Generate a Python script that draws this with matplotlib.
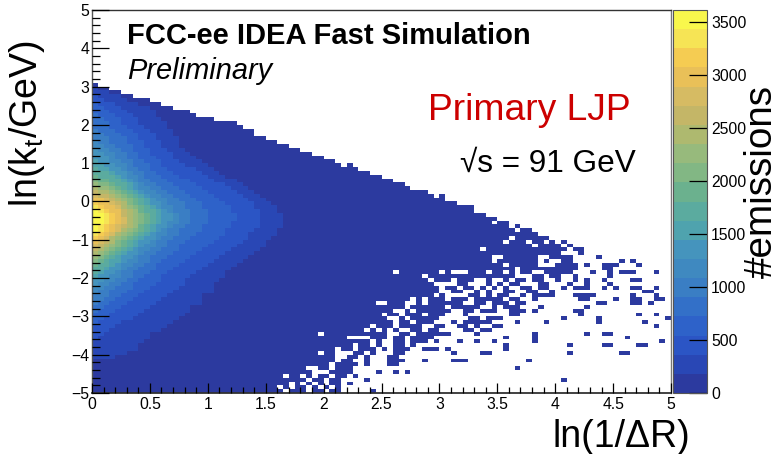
import numpy as np
import matplotlib
matplotlib.use("Agg")
import matplotlib.pyplot as plt
from matplotlib.colors import ListedColormap, BoundaryNorm
from matplotlib.ticker import MultipleLocator

plt.rcParams['font.family'] = ['Liberation Sans', 'DejaVu Sans']
plt.rcParams['mathtext.fontset'] = 'custom'
plt.rcParams['mathtext.rm'] = 'Liberation Sans'
plt.rcParams['mathtext.default'] = 'regular'
plt.rcParams['axes.unicode_minus'] = True

N_BINS = 100
Z_MAX = 3613

# colours of the 20 palette bands, bottom to top
band_colors = ["#2c3a9f", "#2947b5", "#2b55c5", "#2e62c9", "#3370c8",
               "#3a7ec4", "#3f89c0", "#4594bd", "#4fa3ae", "#5bab9f",
               "#6bb18e", "#82b784", "#97ba7c", "#aeb96f", "#c4b667",
               "#d6bb63", "#e9c058", "#f5cc52", "#f6e455", "#f9f74c"]

# highest filled row of each column
top_row = [80, 79, 79, 78, 78, 77, 77, 76, 76, 76, 75, 75, 74, 74, 73, 73, 73, 72, 71, 71,
           71, 70, 70, 70, 70, 69, 68, 68, 66, 66, 65, 65, 64, 64, 63, 63, 62, 62, 61, 61,
           60, 60, 59, 58, 59, 58, 57, 57, 56, 56, 55, 55, 54, 54, 53, 52, 52, 52, 51, 50,
           51, 49, 49, 48, 48, 48, 46, 46, 45, 45, 44, 44, 44, 44, 44, 44, 44, 44, 44, 44,
           44, 44, 44, 44, 44, 44, 44, 44, 44, 44, 44, 44, 44, 44, 44, 44, 44, 44, 44, 44]

# first row of each contour band, then the column where the band ends on each row
band_first_row = [9, 14, 18, 21, 23, 26, 28, 30, 31, 33, 34, 35, 36, 37, 38, 39, 40, 41, 42]
band_01 = [4, 6, 8, 8, 9, 10, 10, 12, 13, 14, 15, 16, 17, 17, 19, 19, 19, 21, 21, 21, 22, 23, 23, 24,
           25, 26, 27, 28, 29, 30, 30, 31, 32, 32, 33, 33, 33, 33, 32, 32, 31, 30, 29, 28, 27, 26, 25,
           23, 22, 21, 20, 19, 18, 17, 16, 15, 15, 15, 14, 14, 13, 13, 12, 11, 11, 10, 8, 6, 5, 3, 1]
band_02 = [1, 2, 3, 4, 5, 7, 8, 9, 10, 11, 12, 13, 14, 15, 16, 16, 17, 18, 19, 20, 21, 22, 23, 24, 25,
           26, 27, 27, 28, 29, 29, 29, 29, 29, 28, 28, 27, 26, 25, 24, 23, 21, 20, 19, 18, 16, 15, 14,
           14, 13, 12, 12, 11, 11, 10, 9, 8, 8, 7, 6, 5, 4, 2, 1]
band_03 = [1, 2, 3, 4, 5, 6, 7, 8, 9, 10, 11, 12, 12, 13, 14, 15, 16, 17, 18, 19, 20, 21, 22, 23, 23,
           24, 24, 25, 25, 24, 24, 23, 22, 21, 20, 19, 18, 17, 15, 14, 13, 12, 12, 11, 10, 10, 9, 9,
           8, 8, 7, 6, 5, 5, 4, 3, 2, 1]
band_04 = [1, 2, 3, 4, 5, 6, 7, 7, 8, 9, 10, 11, 11, 12, 13, 14, 15, 15, 16, 17, 18, 19, 19, 20, 20,
           20, 20, 19, 19, 18, 17, 16, 15, 14, 13, 12, 11, 10, 10, 9, 8, 8, 7, 7, 6, 6, 5, 4, 3, 3, 2, 1]
band_05 = [1, 2, 3, 3, 4, 5, 6, 7, 7, 8, 9, 10, 10, 11, 12, 13, 13, 14, 15, 15, 16, 17, 17, 17, 17,
           16, 16, 15, 14, 13, 12, 11, 10, 9, 9, 8, 7, 7, 6, 6, 5, 4, 3, 3, 2, 1]
band_06 = [1, 2, 3, 4, 5, 5, 6, 7, 8, 8, 9, 10, 11, 11, 12, 13, 13, 14, 15, 15, 15, 14, 14, 13, 13,
           12, 11, 10, 9, 8, 8, 7, 6, 6, 5, 4, 4, 3, 2, 1]
band_07 = [1, 2, 3, 4, 5, 5, 6, 7, 8, 8, 9, 10, 11, 11, 12, 13, 13, 14, 14, 13, 12, 12, 11, 10, 9, 8,
           8, 7, 6, 6, 5, 4, 3, 3, 2, 1]
band_08 = [1, 2, 3, 4, 5, 5, 6, 7, 8, 8, 9, 10, 11, 11, 12, 12, 12, 12, 11, 10, 10, 9, 8, 7, 7, 6, 5,
           4, 3, 2, 1]
band_09 = [1, 2, 3, 3, 4, 5, 6, 7, 7, 8, 9, 10, 10, 11, 11, 11, 11, 10, 9, 9, 8, 7, 6, 6, 5, 4, 3, 1]
band_10 = [1, 2, 3, 4, 5, 6, 6, 7, 8, 9, 9, 10, 10, 10, 9, 9, 8, 8, 7, 6, 5, 4, 3, 1]
band_11 = [1, 2, 3, 4, 5, 5, 6, 7, 8, 8, 9, 9, 9, 8, 8, 7, 7, 6, 5, 4, 3, 1]
band_12 = [1, 2, 3, 4, 4, 5, 6, 7, 8, 8, 8, 8, 8, 7, 6, 6, 5, 4, 3, 1]
band_13 = [1, 2, 3, 4, 4, 5, 6, 7, 7, 7, 7, 7, 6, 6, 5, 4, 3, 1]
band_14 = [1, 2, 3, 3, 4, 5, 6, 6, 6, 6, 6, 5, 5, 4, 3, 1]
band_15 = [1, 2, 3, 4, 5, 5, 6, 6, 5, 5, 5, 4, 3, 1]
band_16 = [1, 2, 3, 4, 4, 5, 5, 5, 5, 4, 3, 2]
band_17 = [1, 2, 3, 3, 4, 4, 4, 3, 2, 1]
band_18 = [1, 2, 2, 3, 3, 3, 2, 1]
band_19 = [1, 1, 2, 2, 2, 1]
band_ends = [band_01, band_02, band_03, band_04, band_05, band_06, band_07, band_08, band_09, band_10,
             band_11, band_12, band_13, band_14, band_15, band_16, band_17, band_18, band_19]

# filled column runs for the rows where the plane gets patchy, row 0 first
filled_runs = [
    [(0, 32), (34, 36), (38, 39), (41, 42), (48, 48)],
    [(0, 31), (33, 33), (35, 36), (38, 38), (40, 40), (42, 42)],
    [(0, 33), (35, 35), (37, 37), (39, 39), (41, 42), (44, 44)],
    [(0, 36), (38, 39), (41, 42), (47, 47), (81, 81)],
    [(0, 32), (34, 35), (37, 37), (39, 40), (42, 43), (45, 45)],
    [(0, 37), (41, 44), (49, 49), (52, 52), (54, 54)],
    [(0, 36), (39, 40), (42, 44), (73, 73)],
    [(0, 40), (42, 45), (47, 47), (51, 52)],
    [(0, 41), (43, 44), (47, 47), (51, 53), (57, 57), (62, 64), (75, 75)],
    [(0, 41), (44, 45), (47, 47), (51, 52)],
    [(0, 38), (40, 41), (45, 46), (48, 48), (52, 53), (62, 62), (67, 68), (82, 82), (91, 92)],
    [(0, 41), (43, 44), (46, 48), (50, 50), (52, 54), (57, 59), (61, 61), (71, 71)],
    [(0, 44), (46, 47), (49, 49), (52, 53), (55, 55), (71, 71), (82, 82), (88, 89), (94, 95)],
    [(0, 47), (49, 49), (52, 53), (55, 57), (59, 59), (63, 63), (66, 66), (69, 69), (76, 76), (98, 98)],
    [(0, 43), (48, 50), (52, 53), (55, 58), (71, 71), (76, 76), (92, 92)],
    [(0, 38), (40, 50), (53, 54), (56, 61), (66, 66), (76, 76), (85, 85), (88, 89)],
    [(0, 46), (48, 48), (50, 50), (52, 52), (55, 56), (58, 59), (64, 65), (67, 68)],
    [(0, 47), (49, 51), (53, 56), (59, 60), (63, 64), (66, 66), (69, 70), (97, 97)],
    [(0, 51), (53, 54), (56, 58), (62, 62), (64, 68), (73, 73), (78, 78), (87, 87), (95, 95)],
    [(0, 50), (53, 53), (55, 59), (65, 66), (68, 70), (81, 81), (87, 87), (99, 99)],
    [(0, 49), (51, 52), (54, 56), (58, 60), (64, 64), (72, 73), (84, 84), (94, 94), (97, 97)],
    [(0, 51), (54, 54), (56, 61), (64, 65), (67, 69), (72, 74), (76, 76), (83, 84)],
    [(0, 53), (55, 60), (62, 66), (69, 69), (71, 73), (77, 77), (85, 85)],
    [(0, 48), (51, 53), (56, 56), (58, 63), (66, 67), (69, 71), (73, 74), (87, 88), (93, 94), (96, 96)],
    [(0, 54), (56, 56), (58, 60), (62, 64), (66, 70), (72, 73), (76, 76), (84, 85), (90, 90), (93, 94), (97, 98)],
    [(0, 58), (60, 60), (65, 66), (68, 68), (70, 71), (74, 74), (76, 79), (83, 86), (93, 93), (97, 97)],
    [(0, 59), (62, 63), (66, 66), (68, 68), (71, 72), (75, 76), (79, 79), (95, 96)],
    [(0, 59), (61, 62), (64, 65), (67, 67), (69, 69), (71, 71), (74, 75), (77, 78), (81, 81), (83, 85),
     (88, 88), (90, 90), (93, 94), (97, 97)],
    [(0, 58), (63, 64), (68, 68), (70, 70), (72, 73), (77, 78), (82, 82), (85, 85), (89, 89)],
    [(0, 57), (59, 61), (63, 65), (68, 68), (71, 71), (73, 74), (76, 77), (80, 80), (83, 83), (85, 85),
     (88, 88), (93, 94)],
    [(0, 56), (58, 72), (76, 77), (79, 80), (83, 83), (89, 89)],
    [(0, 51), (53, 59), (61, 61), (65, 67), (69, 70), (72, 72), (74, 75), (78, 82), (86, 86), (89, 89),
     (91, 93), (97, 97)],
    [(0, 72), (74, 83), (88, 89)],
    [(0, 70), (72, 76), (80, 83), (85, 85), (88, 90), (94, 94)],
    [(0, 68), (70, 76), (78, 78), (81, 82), (91, 91), (93, 93)],
    [(0, 68), (71, 76), (79, 82), (87, 87)],
    [(0, 80), (84, 84)],
    [(0, 66), (68, 81), (83, 84)],
    [(0, 75), (77, 80), (82, 82)],
    [(0, 70), (72, 74), (76, 77), (79, 79), (81, 81)],
    [(0, 71), (73, 78)],
    [(0, 76)],
    [(0, 72), (74, 75)],
    [(0, 71), (73, 73)],
    [(0, 68), (70, 71)],
]

x_ticks = [0, 0.5, 1, 1.5, 2, 2.5, 3, 3.5, 4, 4.5, 5]
x_tick_labels = ["0", "0.5", "1", "1.5", "2", "2.5", "3", "3.5", "4", "4.5", "5"]
y_ticks = [-5, -4, -3, -2, -1, 0, 1, 2, 3, 4, 5]
z_ticks = [0, 500, 1000, 1500, 2000, 2500, 3000, 3500]


def build_grid():
    step = Z_MAX / len(band_colors)
    levels = np.zeros((N_BINS, N_BINS), dtype=int)
    for i, ends in enumerate(band_ends):
        for j, end in enumerate(ends):
            levels[band_first_row[i] + j, :end] = i + 1
    counts = (levels + 0.5) * step

    filled = np.zeros((N_BINS, N_BINS), dtype=bool)
    for col, top in enumerate(top_row):
        filled[:top + 1, col] = True
    # patchy rows only keep the listed runs
    for row, runs in enumerate(filled_runs):
        keep = np.zeros(N_BINS, dtype=bool)
        for a, b in runs:
            keep[a:b + 1] = True
        filled[row] &= keep
    return np.ma.masked_where(~filled, counts)


W, H = 779, 454
fig = plt.figure(figsize=(W / 100, H / 100), dpi=100)
ax = fig.add_axes([92 / W, 1 - 393 / H, (671 - 92) / W, (393 - 10) / H])
cax = fig.add_axes([673 / W, 1 - 393 / H, (707 - 673) / W, (393 - 10) / H])

x_edges = np.linspace(0, 5, N_BINS + 1)
y_edges = np.linspace(-5, 5, N_BINS + 1)
bounds = np.linspace(0, Z_MAX, len(band_colors) + 1)
cmap = ListedColormap(band_colors)
norm = BoundaryNorm(bounds, cmap.N)
mesh = ax.pcolormesh(x_edges, y_edges, build_grid(), cmap=cmap, norm=norm,
                     linewidth=0, rasterized=True)

ax.set_xlim(0, 5)
ax.set_ylim(-5, 5)
ax.set_axisbelow(False)
ax.set_xticks(x_ticks)
ax.set_xticklabels(x_tick_labels)
ax.set_yticks(y_ticks)
ax.xaxis.set_minor_locator(MultipleLocator(0.1))
ax.yaxis.set_minor_locator(MultipleLocator(0.2))
ax.tick_params(axis='x', which='major', direction='in', length=7.5, width=0.9, labelsize=11.3, pad=3, zorder=5)
ax.tick_params(axis='x', which='minor', direction='in', length=4, width=0.9, zorder=5)
ax.tick_params(axis='y', which='major', direction='in', length=12.5, width=0.9, labelsize=11.3, pad=2, zorder=5)
ax.tick_params(axis='y', which='minor', direction='in', length=6, width=0.9, zorder=5)
for name, spine in ax.spines.items():
    spine.set_linewidth(1.0)
    spine.set_color("#333333")
ax.spines['right'].set_color("#777777")
ax.spines['left'].set_color("#555555")
ax.spines['bottom'].set_linewidth(1.3)

cb = fig.colorbar(mesh, cax=cax, boundaries=bounds, ticks=z_ticks, spacing='proportional', drawedges=False)
cb.ax.minorticks_off()
cb.ax.tick_params(which='major', direction='in', length=13, width=0.9, labelsize=11.3, pad=3)
cb.outline.set_linewidth(0.8)
cb.outline.set_edgecolor("#555555")

fig.text(127 / W, 1 - 44 / H, "FCC-ee IDEA Fast Simulation", fontsize=21, fontweight='bold', color='black')
fig.text(127 / W, 1 - 79 / H, "Preliminary", fontsize=20.9, fontstyle='italic', color='black')
fig.text(428 / W, 1 - 120 / H, "Primary LJP", fontsize=26.8, color='#cc0000')
fig.text(460 / W, 1 - 172 / H, "\u221as = 91 GeV", fontsize=22.7, color='black')

fig.text(690 / W, 1 - 447 / H, "ln(1/\u0394R)", fontsize=27, ha='right', va='baseline')
fig.text(27 / W, 1 - 124 / H, "ln(k$_{t}$/GeV)", fontsize=27, rotation=90, ha='center', va='center')
fig.text(762 / W, 1 - 181 / H, "#emissions", fontsize=27.8, rotation=90, ha='center', va='center')

fig.savefig("out.png", dpi=100)
